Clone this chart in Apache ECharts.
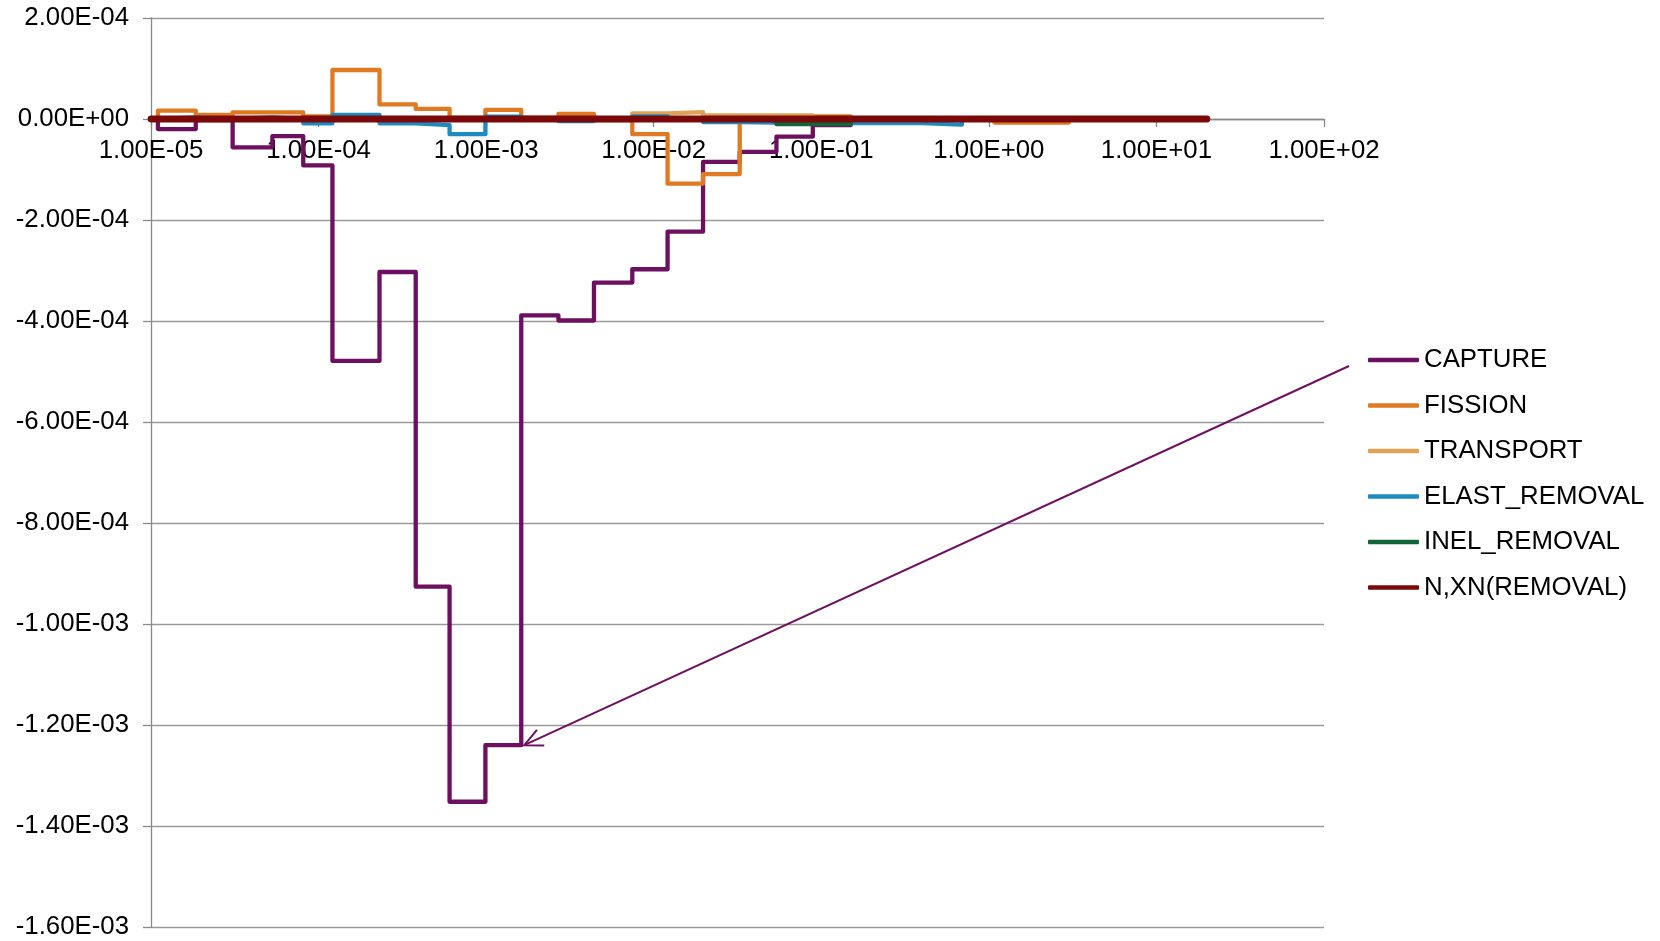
<!DOCTYPE html>
<html>
<head>
<meta charset="utf-8">
<script src="https://cdn.jsdelivr.net/npm/echarts@6/dist/echarts.min.js"></script>
<style>
  html, body { margin: 0; padding: 0; background: #fff; }
  #chart { width: 1660px; height: 941px; }
</style>
</head>
<body>
<div id="chart"></div>
<script>
// Energy group boundaries (log x axis)
const bounds = [1.0e-5, 1.1e-5, 1.85e-5, 3.07e-5, 5.3e-5, 8.1e-5, 1.21e-4, 2.31e-4, 3.8e-4, 6.05e-4,
  9.9e-4, 1.62e-3, 2.7e-3, 4.4e-3, 7.45e-3, 1.21e-2, 1.97e-2, 3.26e-2, 5.4e-2, 8.9e-2,
  0.15, 0.40, 0.69, 1.08, 3.0, 20];

// Group values per series (one value per group)
const capture = [0, -2.0e-5, -2e-6, -5.6e-5, -3.4e-5, -9.2e-5, -4.79e-4, -3.03e-4, -9.26e-4, -1.352e-3,
  -1.24e-3, -3.89e-4, -3.99e-4, -3.24e-4, -2.975e-4, -2.23e-4, -8.5e-5, -6.5e-5, -3.5e-5, -1.2e-5,
  0, 0, 0, 0, 0];
const fission = [0, 1.65e-5, 8e-6, 1.3e-5, 1.3e-5, 5e-6, 9.7e-5, 2.9e-5, 2.0e-5, 2e-6,
  1.8e-5, 2.6e-6, 1.0e-5, -2e-6, -3.0e-5, -1.28e-4, -1.09e-4, 5e-6, 5e-6, 5e-6,
  0, 0, 0, -7e-6, 0];
const transport = [0, 0, 0, 0, 0, 0, 0, 0, 0, 0,
  0, 0, 0, 0, 1.1e-5, 1.35e-5, 7e-6, 7e-6, 7e-6, 0,
  0, 0, 0, 0, 0];
const elastRemoval = [0, 3e-6, 0, 3e-6, 0, -8.5e-6, 8e-6, -8.5e-6, -1.2e-5, -3.0e-5,
  4.5e-6, 0, -4e-6, 0, 5e-6, 0, -6e-6, -7e-6, -8e-6, -8e-6,
  -8e-6, -1.1e-5, 0, 0, 0];
const inelRemoval = [0, 0, 0, 0, 0, 0, 0, 0, 0, 0,
  0, 0, 0, 0, 0, 0, 0, 0, -1.0e-5, -1.0e-5,
  0, 0, 0, 0, 0];
const nxnRemoval = [0, 0, 0, 0, 0, 0, 0, 0, 0, 0,
  0, 0, 0, 0, 0, 0, 0, 0, 0, 0,
  0, 0, 0, 0, 0];

const seriesNames = ['CAPTURE', 'FISSION', 'TRANSPORT', 'ELAST_REMOVAL', 'INEL_REMOVAL', 'N,XN(REMOVAL)'];
const seriesValues = [capture, fission, transport, elastRemoval, inelRemoval, nxnRemoval];
const seriesColors = ['#6E1060', '#E07A22', '#E0A255', '#1E8BC0', '#13643A', '#7A0A0A'];
const seriesWidths = [4.3, 4.3, 4.3, 4.3, 4.3, 6.8];

const yMin = -1.6e-3, yMax = 2e-4, yStep = 2e-4;
const xMin = 1e-5, xMax = 1e2;

function sci(v) {
  let s = Number(v).toExponential(2);
  let [m, e] = s.split('e');
  let sign = e[0] === '-' ? '-' : '+';
  let d = Math.abs(parseInt(e, 10));
  return m + 'E' + sign + (d < 10 ? '0' + d : '' + d);
}

function stepData(vals) {
  const pts = vals.map((v, i) => [bounds[i], v]);
  pts.push([bounds[vals.length], vals[vals.length - 1]]);
  return pts;
}

const FONT = 'Liberation Sans, Arial, sans-serif';
const FS = 25.8;
const W = 1660, H = 941;
const gridL = 151, gridR = 336, gridT = 18, gridB = 14;
const gridH = H - gridT - gridB;
// x axis sits at y = 0: offset from grid bottom
const xAxisOffset = -gridH * (0 - yMin) / (yMax - yMin);

const chart = echarts.init(document.getElementById('chart'), null, { renderer: 'canvas' });

const option = {
  animation: false,
  backgroundColor: '#ffffff',
  grid: { left: gridL, right: gridR, top: gridT, bottom: gridB, containLabel: false, outerBoundsMode: 'none' },
  xAxis: {
    type: 'log',
    logBase: 10,
    min: xMin,
    max: xMax,
    interval: 1,
    splitNumber: 7,
    position: 'bottom',
    offset: xAxisOffset,
    axisLine: { show: true, onZero: false, lineStyle: { color: '#898989', width: 1.3 } },
    axisTick: { show: true, length: 8, inside: false, lineStyle: { color: '#898989', width: 1.3 } },
    minorTick: { show: false },
    splitLine: { show: false },
    axisLabel: {
      show: true, margin: 19, fontFamily: FONT, fontSize: FS, color: '#000',
      formatter: v => sci(v)
    }
  },
  yAxis: {
    type: 'value',
    min: yMin,
    max: yMax,
    interval: yStep,
    axisLine: { show: true, onZero: false, lineStyle: { color: '#898989', width: 1.3 } },
    axisTick: { show: true, length: 8, lineStyle: { color: '#898989', width: 1.3 } },
    splitLine: { show: true, lineStyle: { color: '#9a9a9a', width: 1.3 } },
    axisLabel: {
      margin: 22, fontFamily: FONT, fontSize: FS, color: '#000',
      formatter: v => sci(v)
    }
  },
  legend: {
    orient: 'vertical',
    left: 1363,
    top: 342,
    itemWidth: 51,
    itemHeight: 4.5,
    itemGap: 19.5,
    icon: 'roundRect',
    data: seriesNames,
    textStyle: { fontFamily: FONT, fontSize: FS, color: '#000', lineHeight: 26, padding: [0, 0, 0, 0] }
  },
  series: seriesNames.map((name, k) => ({
    name: name,
    type: 'line',
    step: 'end',
    showSymbol: false,
    symbol: 'none',
    color: seriesColors[k],
    lineStyle: { color: seriesColors[k], width: seriesWidths[k], cap: 'round', join: 'round' },
    data: stepData(seriesValues[k]),
    z: 2 + k
  }))
};
chart.setOption(option);

// Annotation arrow pointing to the CAPTURE group 10 right edge
const tip = chart.convertToPixel({ gridIndex: 0 }, [bounds[11], capture[10]]);
const tipX = tip[0] + 3, tipY = tip[1];
const tailX = 1349, tailY = 366;
const ang = Math.atan2(tailY - tipY, tailX - tipX);
const armLen = 20, spread = 0.45;
const a1 = [tipX + armLen * Math.cos(ang + spread), tipY + armLen * Math.sin(ang + spread)];
const a2 = [tipX + armLen * Math.cos(ang - spread), tipY + armLen * Math.sin(ang - spread)];
chart.setOption({
  graphic: [
    { type: 'line', z: 50, shape: { x1: tailX, y1: tailY, x2: tipX, y2: tipY },
      style: { stroke: '#6E1060', lineWidth: 2 } },
    { type: 'polyline', z: 50, shape: { points: [a1, [tipX, tipY], a2] },
      style: { stroke: '#6E1060', lineWidth: 2, fill: null } }
  ]
});
</script>
</body>
</html>
